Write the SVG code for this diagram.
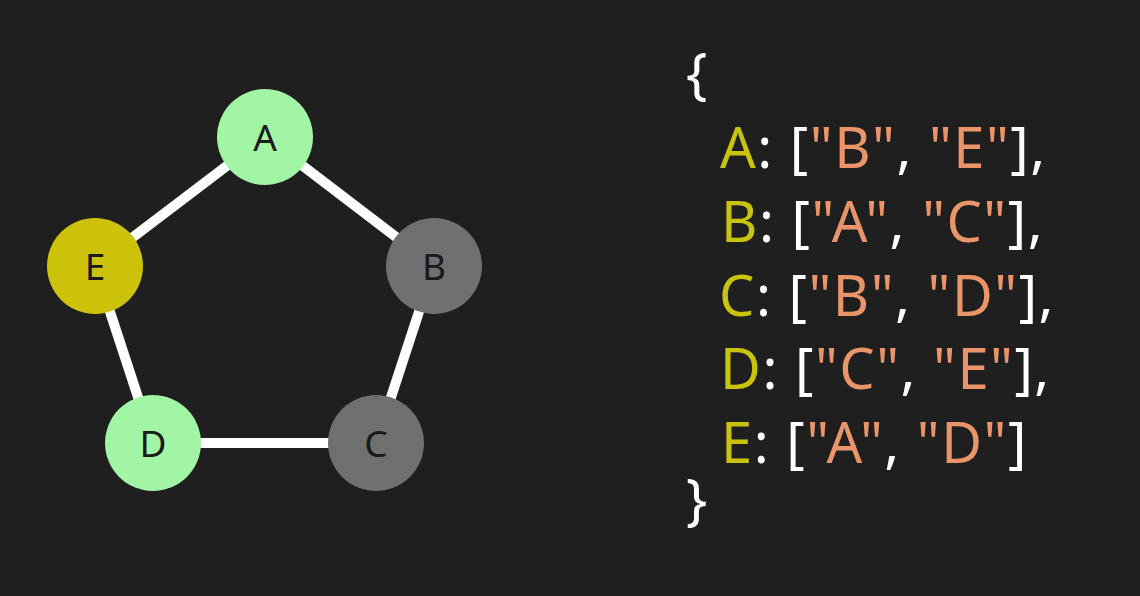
<svg xmlns="http://www.w3.org/2000/svg" width="1140" height="596" viewBox="0 0 1140 596">
<style>
.bg{fill:#1f1f1f}
.edge{stroke:#ffffff;stroke-width:10;stroke-linecap:butt}
.lbl{font-family:"Noto Sans","Open Sans",sans-serif;font-size:37px;fill:#1a1a1a;text-anchor:middle}
.code{font-family:"Noto Sans","Open Sans",sans-serif;font-size:56px;fill:#ffffff;letter-spacing:1.5px}
.k{fill:#c9c30c}
.s{fill:#ea946a}
</style>
<rect class="bg" width="1140" height="596"/>
<g id="connectors">
<line class="edge" x1="265" y1="137" x2="434" y2="266"/>
<line class="edge" x1="434" y1="266" x2="376" y2="443"/>
<line class="edge" x1="376" y1="443" x2="153" y2="443"/>
<line class="edge" x1="153" y1="443" x2="95" y2="266"/>
<line class="edge" x1="95" y1="266" x2="265" y2="137"/>
</g>
<g id="node-A"><circle cx="265" cy="137" r="48" fill="#a2f5a4"/><text class="lbl" x="265" y="151">A</text></g>
<g id="node-B"><circle cx="434" cy="266" r="48" fill="#707070"/><text class="lbl" x="434" y="280">B</text></g>
<g id="node-C"><circle cx="376" cy="443" r="48" fill="#707070"/><text class="lbl" x="376" y="457">C</text></g>
<g id="node-D"><circle cx="153" cy="443" r="48" fill="#a2f5a4"/><text class="lbl" x="153" y="457">D</text></g>
<g id="node-E"><circle cx="95" cy="266" r="48" fill="#cdc20a"/><text class="lbl" x="95" y="280">E</text></g>
<g id="code">
<text class="code" x="686" y="94">{</text>
<text class="code" x="720" y="168"><tspan class="k">A</tspan>: [<tspan class="s">"B"</tspan>, <tspan class="s">"E"</tspan>],</text>
<text class="code" x="721" y="242"><tspan class="k">B</tspan>: [<tspan class="s">"A"</tspan>, <tspan class="s">"C"</tspan>],</text>
<text class="code" x="719" y="316"><tspan class="k">C</tspan>: [<tspan class="s">"B"</tspan>, <tspan class="s">"D"</tspan>],</text>
<text class="code" x="720" y="389"><tspan class="k">D</tspan>: [<tspan class="s">"C"</tspan>, <tspan class="s">"E"</tspan>],</text>
<text class="code" x="721" y="463"><tspan class="k">E</tspan>: [<tspan class="s">"A"</tspan>, <tspan class="s">"D"</tspan>]</text>
<text class="code" x="686" y="520">}</text>
</g>
</svg>
